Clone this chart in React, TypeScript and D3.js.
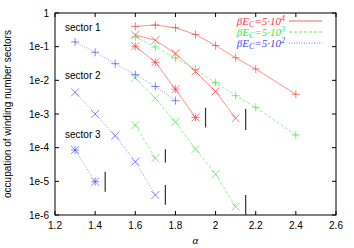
import React from "react";
import * as d3 from "d3";

// alpha values and occupations
const redS1X = [1.6, 1.7, 1.8, 1.9, 2.0, 2.1, 2.2, 2.4];
const redS1Y = [0.4, 0.44, 0.366, 0.23, 0.108, 0.047, 0.0217, 0.00385];
const redS2X = [1.6, 1.7, 1.8, 1.9, 2.0, 2.1];
const redS2Y = [0.222, 0.155, 0.0627, 0.0183, 0.00466, 7.46e-4];
const redS3X = [1.6, 1.7, 1.8, 1.9];
const redS3Y = [0.1026, 0.0343, 0.00546, 7.87e-4];

const greenS1X = [1.6, 1.7, 1.8, 1.9, 2.0, 2.1, 2.2, 2.4];
const greenS1Y = [0.194, 0.0977, 0.046, 0.021, 0.00863, 0.0035, 0.00158, 2.38e-4];
const greenS2X = [1.6, 1.7, 1.8, 1.9, 2.0, 2.1];
const greenS2Y = [0.01174, 0.00293, 5.79e-4, 9.14e-5, 1.62e-5, 1.77e-6];
const greenS3X = [1.6, 1.7];
const greenS3Y = [4.72e-4, 4.84e-5];

const blueS1X = [1.3, 1.4, 1.5, 1.6, 1.7, 1.8];
const blueS1Y = [0.138, 0.068, 0.0312, 0.0147, 0.00656, 0.00249];
const blueS2X = [1.3, 1.4, 1.5, 1.6, 1.7];
const blueS2Y = [0.00441, 1.0e-3, 2.27e-4, 3.83e-5, 3.93e-6];
const blueS3X = [1.3, 1.4];
const blueS3Y = [8.53e-5, 9.77e-6];

// vertical marks: alpha, top, bottom
const markX = [1.45, 1.75, 1.75, 1.95, 2.15, 2.15];
const markTop = [1.94e-5, 8.9e-5, 7.8e-6, 1.54e-3, 1.4e-3, 3.9e-6];
const markBottom = [4.9e-6, 3.6e-5, 2e-6, 4.0e-4, 3.35e-4, 1e-6];

const xTicks = [1.2, 1.4, 1.6, 1.8, 2, 2.2, 2.4, 2.6];
const yTicks = [1, 1e-1, 1e-2, 1e-3, 1e-4, 1e-5, 1e-6];
const yTickLabels = ["1", "1e-1", "1e-2", "1e-3", "1e-4", "1e-5", "1e-6"];
const sectorLabels = ["sector 1", "sector 2", "sector 3"];
const sectorLabelY = [0.3, 0.011, 1.9e-4];
const legendExp = ["4", "3", "2"];
const colors = ["#ff3a3a", "#3ae83a", "#4a4aff"];

const W = 354;
const H = 248;
const m = { left: 55, right: 18, top: 13, bottom: 33 };

const x = d3.scaleLinear().domain([1.2, 2.6]).range([m.left, W - m.right]);
const y = d3.scaleLog().domain([1e-6, 1]).range([H - m.bottom, m.top]);

type Series = { xs: number[]; ys: number[]; color: number; marker: string; dash: string };

const series: Series[] = [
  { xs: redS1X, ys: redS1Y, color: 0, marker: "plus", dash: "" },
  { xs: redS2X, ys: redS2Y, color: 0, marker: "cross", dash: "" },
  { xs: redS3X, ys: redS3Y, color: 0, marker: "star", dash: "" },
  { xs: greenS1X, ys: greenS1Y, color: 1, marker: "plus", dash: "3,2" },
  { xs: greenS2X, ys: greenS2Y, color: 1, marker: "cross", dash: "3,2" },
  { xs: greenS3X, ys: greenS3Y, color: 1, marker: "cross", dash: "3,2" },
  { xs: blueS1X, ys: blueS1Y, color: 2, marker: "plus", dash: "1,1.5" },
  { xs: blueS2X, ys: blueS2Y, color: 2, marker: "cross", dash: "1,1.5" },
  { xs: blueS3X, ys: blueS3Y, color: 2, marker: "star", dash: "1,1.5" },
];

const markerPath = (kind: string, cx: number, cy: number) => {
  const s = 4;
  const plus = `M${cx - s},${cy}H${cx + s}M${cx},${cy - s}V${cy + s}`;
  const cross = `M${cx - s},${cy - s}L${cx + s},${cy + s}M${cx - s},${cy + s}L${cx + s},${cy - s}`;
  if (kind === "plus") return plus;
  if (kind === "cross") return cross;
  return plus + cross;
};

const line = d3
  .line<[number, number]>()
  .x((d) => x(d[0]))
  .y((d) => y(d[1]));

export default function App() {
  const left = m.left;
  const right = W - m.right;
  const top = m.top;
  const bottom = H - m.bottom;
  const font = "'Liberation Sans', Arial, sans-serif";
  const serif = "'Liberation Serif', 'Times New Roman', serif";
  return (
    <svg width={W} height={H} style={{ position: "absolute", left: 0, top: 0 }}>
      <rect x={0} y={0} width={W} height={H} fill="#fff" />
      {/* ticks */}
      {xTicks.map((t, i) => (
        <g key={"xt" + i}>
          <line x1={x(t)} x2={x(t)} y1={bottom} y2={bottom - 4} stroke="#000" />
          <line x1={x(t)} x2={x(t)} y1={top} y2={top + 4} stroke="#000" />
          <text x={x(t)} y={bottom + 14} textAnchor="middle" fontSize={10} fontFamily={font}>
            {d3.format("")(t)}
          </text>
        </g>
      ))}
      {yTicks.map((t, i) => (
        <g key={"yt" + i}>
          <line x1={left} x2={left + 4} y1={y(t)} y2={y(t)} stroke="#000" />
          <line x1={right} x2={right - 4} y1={y(t)} y2={y(t)} stroke="#000" />
          <text x={left - 6} y={y(t) + 3.5} textAnchor="end" fontSize={10} fontFamily={font}>
            {yTickLabels[i]}
          </text>
        </g>
      ))}
      <rect x={left} y={top} width={right - left} height={bottom - top} fill="none" stroke="#000" />
      <text
        transform={`translate(11,${(top + bottom) / 2}) rotate(-90)`}
        textAnchor="middle"
        fontSize={10}
        fontFamily={font}
      >
        occupation of winding number sectors
      </text>
      <text x={(left + right) / 2} y={H - 4} textAnchor="middle" fontSize={11} fontFamily={serif} fontStyle="italic">
        α
      </text>
      {sectorLabels.map((s, i) => (
        <text key={s} x={65} y={y(sectorLabelY[i])} fontSize={10} fontFamily={font}>
          {s}
        </text>
      ))}
      {/* series */}
      {series.map((s, i) => {
        const pts = s.xs.map((v, j) => [v, s.ys[j]] as [number, number]);
        return (
          <g key={"s" + i}>
            <path d={line(pts) || ""} fill="none" stroke={colors[s.color]} strokeWidth={0.8} strokeOpacity={0.7} strokeDasharray={s.dash} />
            {pts.map((p, j) => (
              <path key={j} d={markerPath(s.marker, x(p[0]), y(p[1]))} stroke={colors[s.color]} strokeWidth={0.9} strokeOpacity={0.75} fill="none" />
            ))}
          </g>
        );
      })}
      {markX.map((v, i) => (
        <line key={"mk" + i} x1={x(v)} x2={x(v)} y1={y(markTop[i])} y2={y(markBottom[i])} stroke="#333" strokeWidth={1.2} />
      ))}
      {/* legend */}
      {legendExp.map((e, i) => {
        const ly = 21 + i * 11;
        return (
          <g key={"lg" + i}>
            <text x={285} y={ly + 4} textAnchor="end" fontSize={11} fontFamily={serif} fontStyle="italic" fill={colors[i]}>
              <tspan>βE</tspan>
              <tspan fontSize={8} dy={2}>C</tspan>
              <tspan dy={-2}>=5·10</tspan>
              <tspan fontSize={8} dy={-4}>{e}</tspan>
            </text>
            <line x1={289} x2={322} y1={ly} y2={ly} stroke={colors[i]} strokeWidth={0.8} strokeDasharray={series[i * 3].dash} />
          </g>
        );
      })}
    </svg>
  );
}
